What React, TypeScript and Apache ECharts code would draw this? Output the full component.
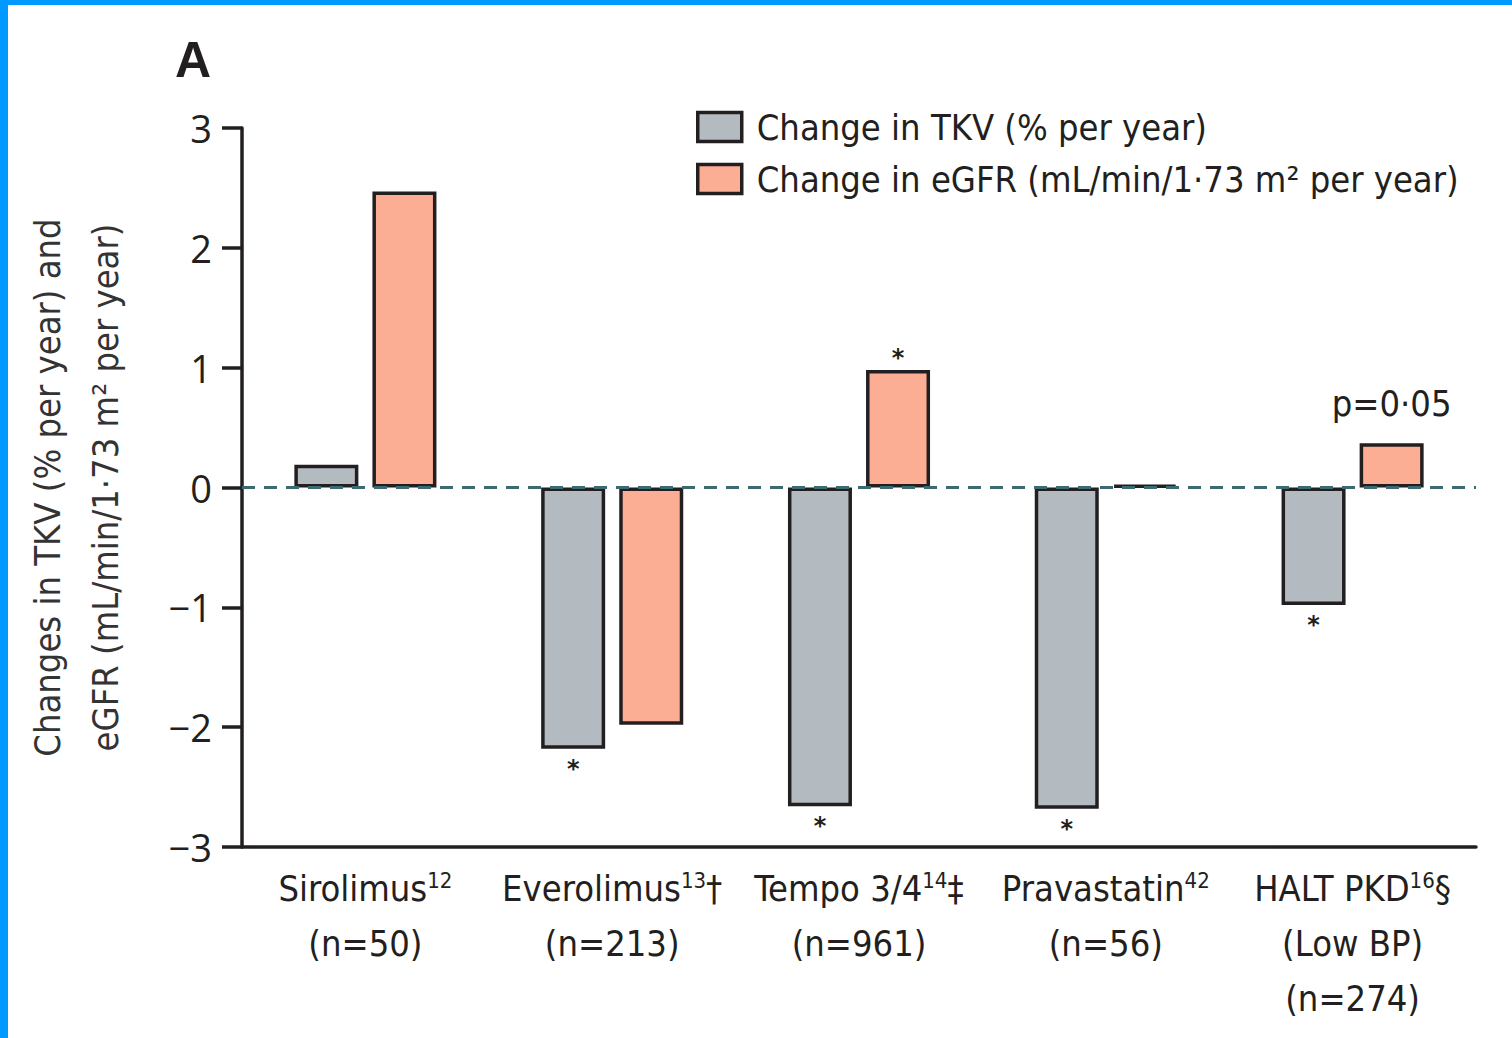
import React, { useEffect, useRef } from "react";
import * as echarts from "echarts";

const categories = ["Sirolimus", "Everolimus", "Tempo 3/4", "Pravastatin", "HALT PKD"];
const refs = ["12", "13", "14", "42", "16"];
const marks = ["", "†", "‡", "", "§"];
const subLines = [["(n=50)"], ["(n=213)"], ["(n=961)"], ["(n=56)"], ["(Low BP)", "(n=274)"]];
const tkvValues = [0.19, -2.18, -2.66, -2.68, -0.98];
const egfrValues = [2.47, -1.98, 0.98, 0.02, 0.37];
const tkvNotes = ["", "*", "*", "*", "*"];
const egfrNotes = ["", "", "*", "", "p=0·05"];
const yTicks = { min: -3, max: 3, interval: 1 };
const seriesNames = ["Change in TKV (% per year)", "Change in eGFR (mL/min/1·73 m² per year)"];
const yAxisTitle = "Changes in TKV (% per year) and\neGFR (mL/min/1·73 m² per year)";

const FONT = '"Liberation Sans Narrow", "DejaVu Sans Condensed", "Open Sans", sans-serif';
const INK = "#231f20";
const GRAY = "#b3bbc1";
const SALMON = "#fcae94";

function noteLabel(note: string, v: number) {
  if (!note) return undefined;
  const star = note === "*";
  return {
    show: true,
    position: v < 0 ? "bottom" : "top",
    distance: star ? (v < 0 ? 8 : 0) : 22,
    formatter: note,
    color: INK,
    fontFamily: star ? '"DejaVu Sans", sans-serif' : FONT,
    fontSize: star ? 24 : 36,
    fontWeight: star ? "bold" : "normal",
  };
}

export default function App() {
  const ref = useRef<HTMLDivElement>(null);
  useEffect(() => {
    if (!ref.current) return;
    const chart = echarts.init(ref.current, undefined, { renderer: "svg" });
    chart.setOption({
      animation: false,
      backgroundColor: "#ffffff",
      title: {
        text: "A",
        left: 170,
        top: 30,
        textStyle: { fontFamily: '"Liberation Sans", sans-serif', fontSize: 50, fontWeight: "bold", color: INK },
      },
      legend: {
        orient: "vertical",
        left: 696,
        top: 109,
        padding: 0,
        itemWidth: 44,
        itemHeight: 29,
        itemGap: 16,
        icon: "rect",
        itemStyle: { borderColor: INK, borderWidth: 3.5 },
        textStyle: { fontFamily: FONT, fontSize: 36, color: INK, padding: [0, 0, 0, 10] },
        data: seriesNames,
      },
      grid: { left: 242, right: 36, top: 128, bottom: 191, containLabel: false, outerBoundsMode: "none" },
      xAxis: {
        type: "category",
        data: categories,
        axisLine: { onZero: false, lineStyle: { color: INK, width: 3.5 } },
        axisTick: { length: 20, lineStyle: { color: INK, width: 3.5 } },
        axisLabel: {
          margin: 14,
          interval: 0,
          color: INK,
          fontFamily: FONT,
          fontSize: 36,
          lineHeight: 55,
          formatter: (value: string, idx: number) =>
            `${value}{sup|${refs[idx]}}${marks[idx]}\n${subLines[idx].join("\n")}`,
          rich: {
            sup: { fontFamily: FONT, fontSize: 22, lineHeight: 22, color: INK, padding: [0, 0, 16, 0] },
          },
        },
      },
      yAxis: {
        type: "value",
        min: yTicks.min,
        max: yTicks.max,
        interval: yTicks.interval,
        name: yAxisTitle,
        nameLocation: "middle",
        nameGap: 108,
        nameTextStyle: { fontFamily: FONT, fontSize: 36, lineHeight: 58, color: "#333333" },
        axisLine: { show: true, lineStyle: { color: INK, width: 3.5 } },
        axisTick: { show: true, length: 20, lineStyle: { color: INK, width: 3.5 } },
        splitLine: { show: false },
        axisLabel: {
          margin: 30,
          color: INK,
          fontFamily: '"Open Sans", sans-serif',
          fontSize: 38,
          formatter: (v: number) => (v < 0 ? "−" + Math.abs(v) : String(v)),
        },
      },
      series: [
        {
          name: seriesNames[0],
          type: "bar",
          barWidth: 64,
          barGap: "22%",
          itemStyle: { color: GRAY, borderColor: INK, borderWidth: 3.5 },
          data: tkvValues.map((v, i) => ({ value: v, label: noteLabel(tkvNotes[i], v) })),
          markLine: {
            silent: true,
            symbol: "none",
            label: { show: false },
            lineStyle: { color: "#3d6a71", width: 3, type: [13, 9] },
            data: [{ yAxis: 0 }],
          },
        },
        {
          name: seriesNames[1],
          type: "bar",
          barWidth: 64,
          barGap: "22%",
          itemStyle: { color: SALMON, borderColor: INK, borderWidth: 3.5 },
          data: egfrValues.map((v, i) => ({ value: v, label: noteLabel(egfrNotes[i], v) })),
        },
      ],
    });
    return () => chart.dispose();
  }, []);
  return (
    <div style={{ position: "fixed", left: 0, top: 0, width: 1512, height: 1038, background: "#fff" }}>
      <div ref={ref} style={{ position: "absolute", left: 0, top: 0, width: 1512, height: 1038 }} />
      <div style={{ position: "absolute", left: 0, top: 0, width: 1512, height: 5, background: "#0099ff" }} />
      <div style={{ position: "absolute", left: 0, top: 0, width: 8, height: 1038, background: "#0099ff" }} />
    </div>
  );
}
